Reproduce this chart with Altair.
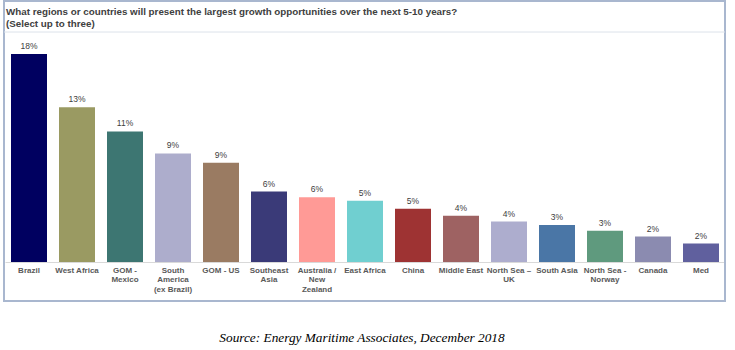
import altair as alt
import pandas as pd

categories = ["Brazil", "West Africa", "GOM -\nMexico", "South\nAmerica\n(ex Brazil)", "GOM - US",
              "Southeast\nAsia", "Australia /\nNew\nZealand", "East Africa", "China", "Middle East",
              "North Sea –\nUK", "South Asia", "North Sea -\nNorway", "Canada", "Med"]
values = [18.0, 13.4, 11.3, 9.4, 8.6, 6.1, 5.6, 5.3, 4.6, 4.0, 3.5, 3.2, 2.7, 2.2, 1.6]
value_labels = ["18%", "13%", "11%", "9%", "9%", "6%", "6%", "5%", "5%", "4%", "4%", "3%", "3%", "2%", "2%"]
colors = ["#000060", "#9A9A62", "#3D7672", "#ADADCC", "#9A7B62", "#3A3A78", "#FF9A96", "#70CFD0",
          "#9E3333", "#9E6262", "#ADADCE", "#4A76A6", "#5F9A7E", "#8B8BB0", "#60609E"]
title_lines = ["What regions or countries will present the largest growth opportunities over the next 5-10 years?",
               "(Select up to three)"]
source_text = "Source: Energy Maritime Associates, December 2018"

df = pd.DataFrame({"cat": categories, "val": values, "lab": value_labels, "col": colors})

x_enc = alt.X("cat:N", sort=None, title=None,
              scale=alt.Scale(paddingInner=0.25, paddingOuter=0.125),
              axis=alt.Axis(labelAngle=0, labelExpr="split(datum.label, '\\n')",
                            labelFont="Liberation Sans", labelFontWeight="bold", labelFontSize=8,
                            labelColor="#595959", labelLineHeight=9.5, labelPadding=4,
                            labelBaseline="top",
                            ticks=False, domainColor="#D9D9D9", labelLimit=0))
y_enc = alt.Y("val:Q", title=None, scale=alt.Scale(domain=[0, 19.9]), axis=None)

bars = alt.Chart(df).mark_bar().encode(
    x=x_enc, y=y_enc, color=alt.Color("col:N", scale=None)
)
texts = alt.Chart(df).mark_text(baseline="bottom", dy=-3, font="Liberation Sans", fontSize=8.5,
                                 color="#404040").encode(
    x=alt.X("cat:N", sort=None), y="val:Q", text="lab:N"
)

frame = alt.Chart(pd.DataFrame({"a": [0]})).mark_rect(
    fill=None, stroke="#A9B7CF", strokeWidth=2
).encode(x=alt.value(-1), x2=alt.value(720), y=alt.value(-30), y2=alt.value(270))

sep = alt.Chart(pd.DataFrame({"a": [0]})).mark_rule(color="#DCE2EA", strokeWidth=1).encode(
    x=alt.value(-1), x2=alt.value(720), y=alt.value(1)
)

title_df = pd.DataFrame({"t": title_lines, "yy": [-16, -4]})
title = alt.Chart(title_df).mark_text(align="left", baseline="alphabetic", font="Liberation Sans",
                                      fontWeight="bold", fontSize=9.8, color="#404040").encode(
    x=alt.value(1), y=alt.Y("yy:Q", scale=None), text="t:N"
)

source = alt.Chart(pd.DataFrame({"t": [source_text]})).mark_text(
    align="center", baseline="alphabetic", font="Liberation Serif", fontStyle="italic",
    fontSize=13.3, color="#000000"
).encode(x=alt.value(357), y=alt.value(311), text="t:N")

chart = alt.layer(frame, sep, bars, texts, title, source).properties(
    width=720, height=231,
    padding={"left": 5, "top": 31, "right": 10, "bottom": 88},
    autosize=alt.AutoSizeParams(type="none"),
    background="white"
).configure_view(stroke=None)

chart.save("out.html", embed_options={"renderer": "svg", "actions": False})
